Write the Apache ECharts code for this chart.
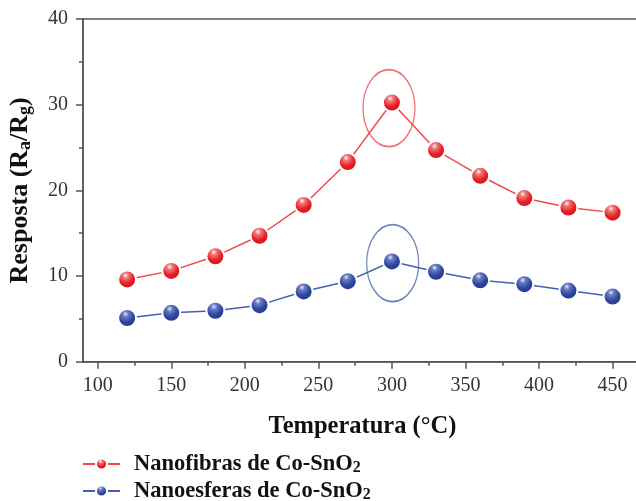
<!DOCTYPE html>
<html><head><meta charset="utf-8">
<script src="https://cdn.jsdelivr.net/npm/echarts@6/dist/echarts.min.js"></script>
<style>html,body{margin:0;padding:0;background:#fff}#c{width:636px;height:501px}</style>
</head><body><div id="c"></div>
<script>
const temperatures = [120, 150, 180, 210, 240, 270, 300, 330, 360, 390, 420, 450];
const nanofibras = [9.6, 10.6, 12.3, 14.7, 18.3, 23.3, 30.25, 24.7, 21.7, 19.1, 18.0, 17.4];
const nanoesferas = [5.1, 5.7, 5.95, 6.6, 8.2, 9.4, 11.7, 10.5, 9.5, 9.05, 8.3, 7.6];
const xMajorTicks = [100, 150, 200, 250, 300, 350, 400, 450];
const xMinorTicks = [125, 175, 225, 275, 325, 375, 425];
const seriesNames = ['Nanofibras de Co-SnO{sub|2}', 'Nanoesferas de Co-SnO{sub|2}'];
const highlightRed = [[298, 29.6]];
const highlightBlue = [[300.5, 11.5]];

const serif = '"Liberation Serif", "DejaVu Serif", serif';
function ball(c0, c1, c2, c3) {
  return {type: 'radial', x: 0.42, y: 0.3, r: 0.75,
    colorStops: [{offset: 0, color: c0}, {offset: 0.18, color: c1}, {offset: 0.55, color: c2}, {offset: 1, color: c3}]};
}
const redBall = ball('#ffffff', '#f27a7a', '#e61e25', '#c0141a');
const blueBall = ball('#e8ecff', '#6c7ec4', '#2d469c', '#1f3280');
const pair = arr => temperatures.map((t, i) => [t, arr[i]]);

const chart = echarts.init(document.getElementById('c'), null, {renderer: 'canvas'});
chart.setOption({
  animation: false,
  grid: {left: 83, top: 19, right: -6, bottom: 139.3, outerBoundsMode: 'none', containLabel: false,
    show: true, borderColor: '#555', borderWidth: 1.5, backgroundColor: 'transparent'},
  legend: {
    orient: 'vertical', left: 82, top: 450.5, width: 400, height: 80, padding: 0, itemWidth: 37, itemHeight: 14, itemGap: 0,
    data: seriesNames,
    textStyle: {fontFamily: serif, fontWeight: 'bold', fontSize: 22.5, lineHeight: 27, color: '#111', padding: [0, 0, 0, 9],
      rich: {sub: {fontFamily: serif, fontWeight: 'bold', fontSize: 16, lineHeight: 20, color: '#111', padding: [7, 0, 0, 0]}}}
  },
  xAxis: [{
    type: 'value', min: 90, max: 470,
    name: 'Temperatura (°C)', nameLocation: 'middle', nameGap: 52,
    nameTextStyle: {fontFamily: serif, fontWeight: 'bold', fontSize: 24.5, color: '#111'},
    axisLine: {show: true, lineStyle: {color: '#555', width: 1.5}},
    axisTick: {show: true, inside: false, length: 7, customValues: xMajorTicks, lineStyle: {color: '#555', width: 1.5}},
    axisLabel: {customValues: xMajorTicks, fontFamily: serif, fontSize: 20, color: '#333', margin: 14},
    splitLine: {show: false}
  }, {
    type: 'value', min: 90, max: 470, position: 'bottom',
    axisLine: {show: false},
    axisTick: {show: true, length: 4, customValues: xMinorTicks, lineStyle: {color: '#555', width: 1.5}},
    axisLabel: {show: false}, splitLine: {show: false}
  }],
  yAxis: {
    type: 'value', min: 0, max: 40, interval: 10,
    name: 'Resposta (R{sub|a}/R{sub|g})', nameLocation: 'middle', nameGap: 49,
    nameTextStyle: {fontFamily: serif, fontWeight: 'bold', fontSize: 26, color: '#111',
      rich: {sub: {fontFamily: serif, fontWeight: 'bold', fontSize: 18, color: '#111', padding: [9, 0, 0, 0]}}},
    axisLine: {show: true, lineStyle: {color: '#555', width: 1.5}},
    axisTick: {show: true, length: 7, lineStyle: {color: '#555', width: 1.5}},
    minorTick: {show: true, splitNumber: 2, length: 4, lineStyle: {color: '#555', width: 1.5}},
    axisLabel: {fontFamily: serif, fontSize: 20, color: '#333', margin: 15},
    splitLine: {show: false}
  },
  series: [
    {name: seriesNames[0], type: 'line', data: pair(nanofibras), symbol: 'circle', symbolSize: 18,
     lineStyle: {color: '#f0484c', width: 1.5}, itemStyle: {color: redBall, borderColor: '#fff', borderWidth: 2}, z: 3},
    {name: seriesNames[1], type: 'line', data: pair(nanoesferas), symbol: 'circle', symbolSize: 18,
     lineStyle: {color: '#4560ad', width: 1.5}, itemStyle: {color: blueBall, borderColor: '#fff', borderWidth: 2}, z: 3},
    {name: 'hlR', type: 'scatter', data: highlightRed, symbol: 'circle', symbolSize: [52, 77], silent: true,
     itemStyle: {color: 'rgba(0,0,0,0)', borderColor: '#ec4a4f', borderWidth: 1.5}, z: 2},
    {name: 'hlB', type: 'scatter', data: highlightBlue, symbol: 'circle', symbolSize: [52, 77], silent: true,
     itemStyle: {color: 'rgba(0,0,0,0)', borderColor: '#4a63ae', borderWidth: 1.5}, z: 2}
  ]
});
</script></body></html>
